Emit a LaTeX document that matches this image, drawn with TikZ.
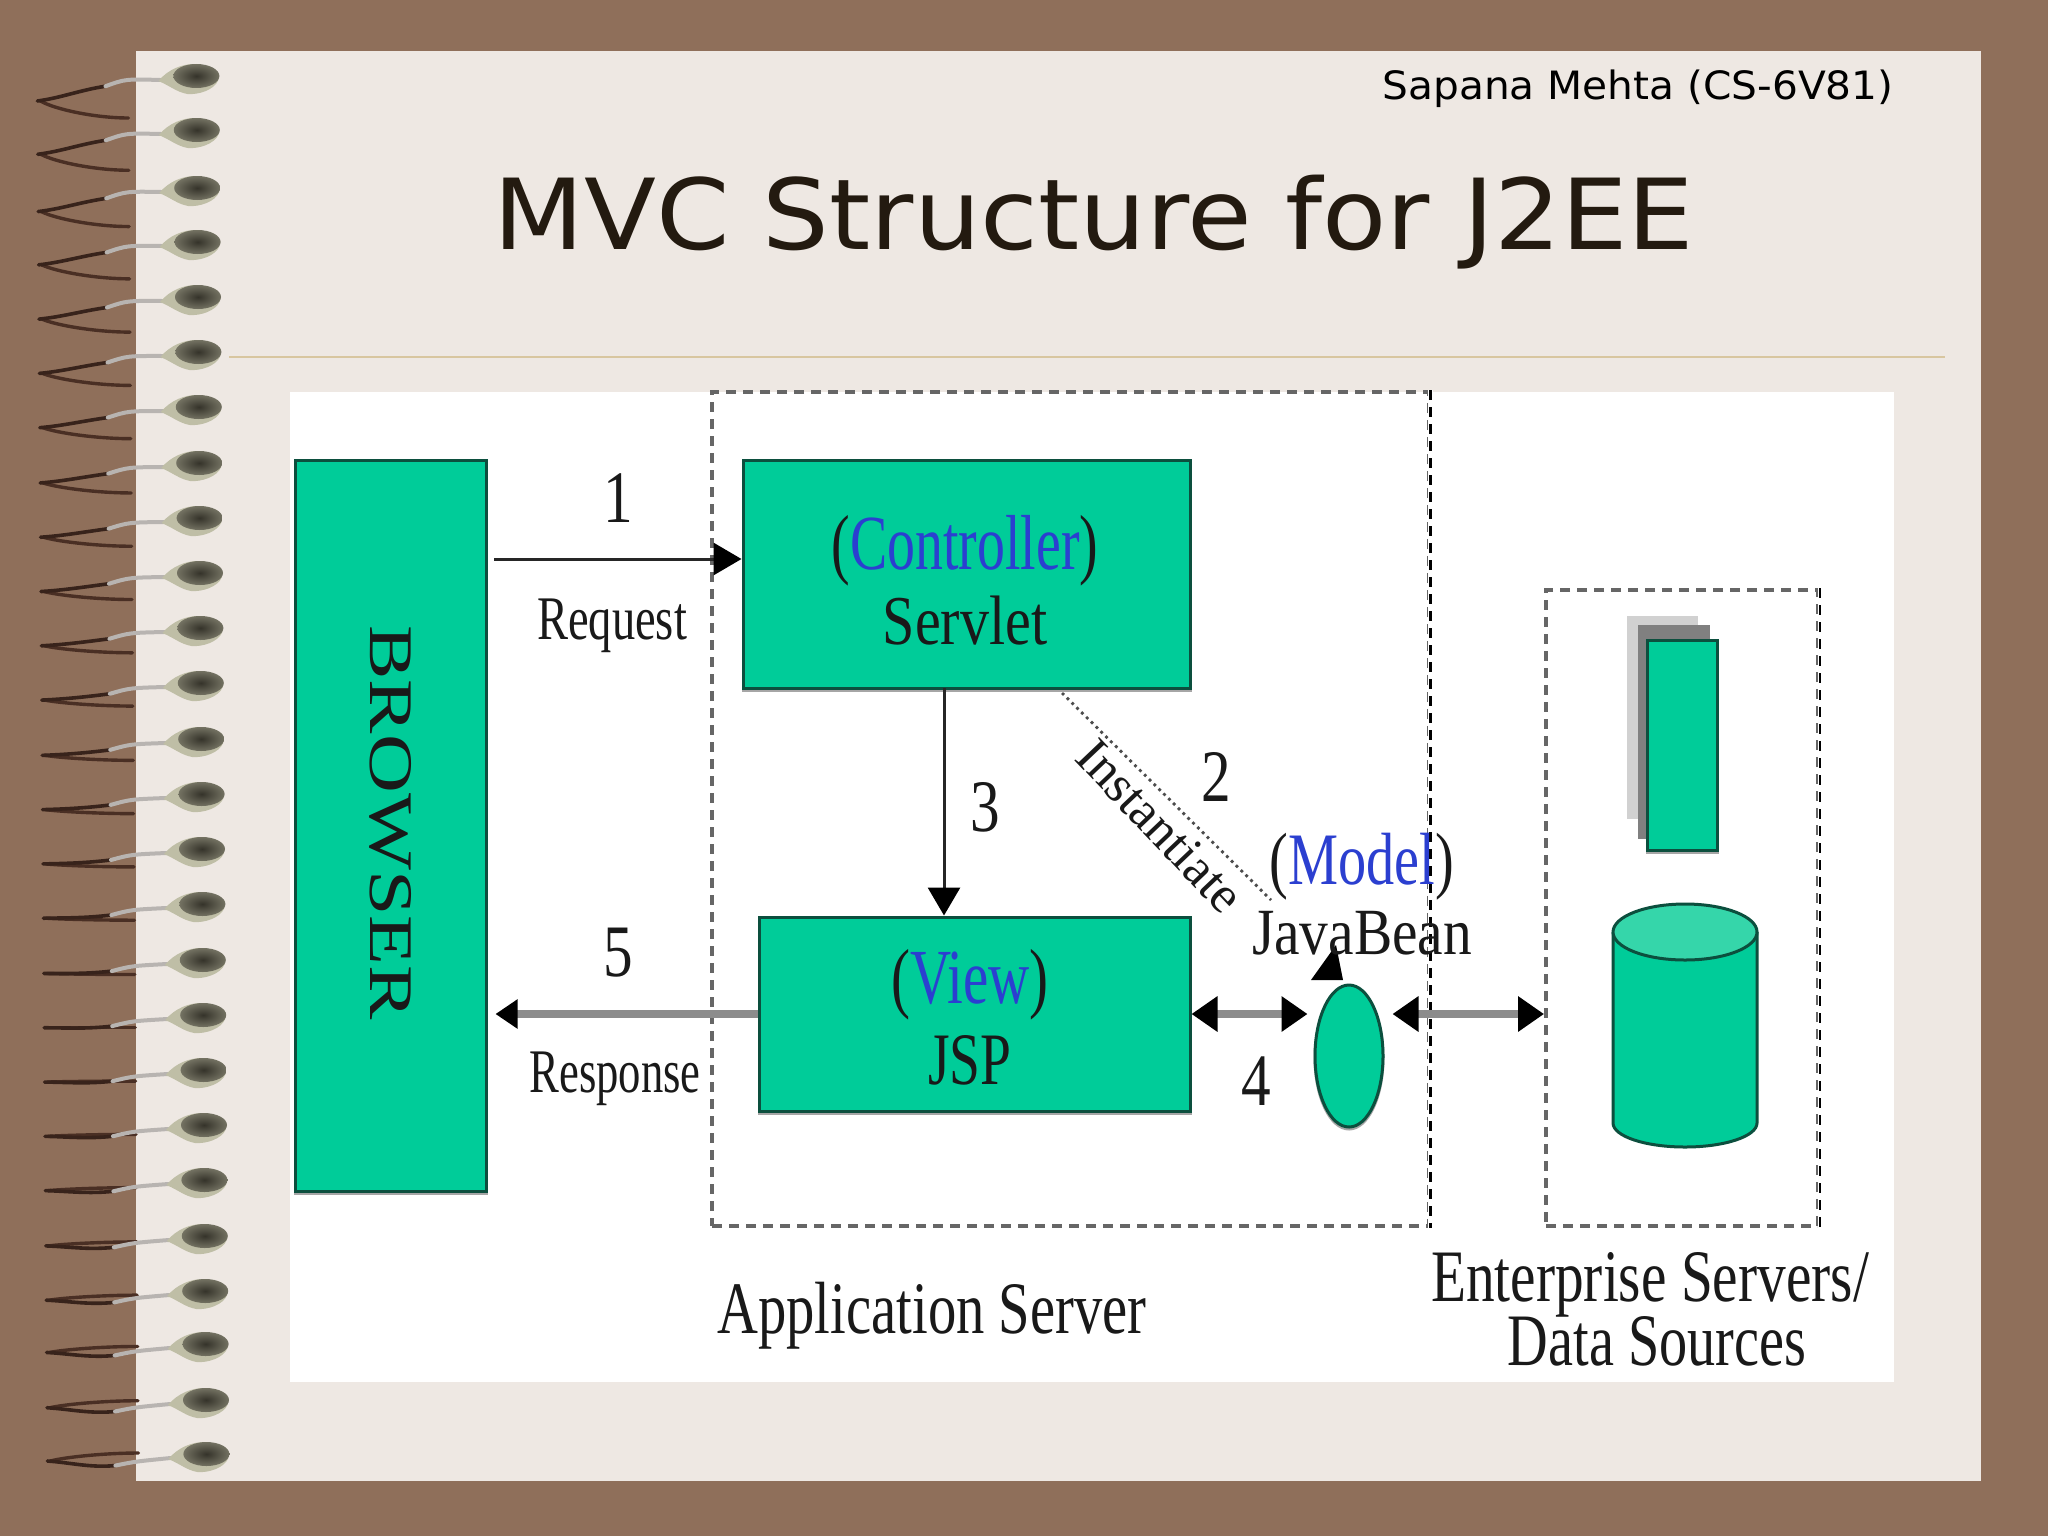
\documentclass[tikz,border=0pt]{standalone}
\usepackage{fontspec}
\setmainfont{Liberation Serif}
\newfontfamily\slidefont{DejaVu Sans}
\usetikzlibrary{arrows.meta,shapes.geometric}
\definecolor{slidebrown}{HTML}{8F6F5A}
\definecolor{slidepaper}{HTML}{EEE8E3}
\definecolor{sliderule}{HTML}{D8C6A0}
\definecolor{slideink}{HTML}{231A10}
\definecolor{boxteal}{HTML}{00CC99}
\definecolor{boxedge}{HTML}{0C4F3E}
\definecolor{lidteal}{HTML}{35D6AA}
\definecolor{roleblue}{HTML}{2B3FD0}
\definecolor{beadlight}{HTML}{BFBEA6}
\definecolor{beaddark}{HTML}{35332A}
\definecolor{wiredark}{HTML}{4A2F24}
\newcommand\imgtext[3]{\scalebox{#2}[1]{\fontsize{#1pt}{#1pt}\selectfont #3}}
\newcommand\rolename[1]{({\color{roleblue}#1})}
% bead at #1,#2; #3 = tip drop, #4 = drop of the wire's back end, #5 = sag of the front wire
\newcommand\spiralring[5]{%
  \begin{scope}[shift={(#1,#2)}]
    \draw[line width=1.7pt,line cap=round,wiredark] (-150,#3) .. controls (-135,#3/2+#4/2) and (-95,#4) .. (-62,#4);
    \draw[line width=1.8pt,line cap=round,wiredark!75!black] (-153,#3) .. controls (-130,#3+#5/2-3) and (-110,#3*.5+#5) .. (-85,#3*.33+#5*.8);
    \draw[line width=2pt,line cap=round,black!15!slidepaper!75!gray] (-85,#3*.33+#5*.8) .. controls (-65,#5/2) .. (-30,1);
    \fill[beadlight] (-32,2) .. controls (-22,-10) and (-8,-15) .. (4,-15) .. controls (20,-14) and (28,-6) .. (28,1)
       .. controls (24,11) and (8,16) .. (-3,15) .. controls (-14,13) and (-20,7) .. (-32,2) -- cycle;
    \shade[inner color=beaddark,outer color=beadlight!45!beaddark] (6,-3) ellipse[x radius=23,y radius=12];
  \end{scope}}
\tikzset{
  tealbox/.style={draw=boxedge,line width=1.5pt,fill=boxteal,inner sep=0pt,
     preaction={draw=gray!70,line width=1.5pt,transform canvas={yshift=-1pt}}},
  dashbox/.style={draw=black!60,line width=1.6pt,dash pattern=on 5pt off 3.5pt,inner sep=0pt},
  imglabel/.style={inner sep=0pt,text=black!90},
  flowline/.style={line width=1.5pt,black!85},
  wideline/.style={line width=3.6pt,black!45},
  flowtip/.style={-{Triangle[length=14pt,width=16pt,black]}},
  bothtip/.style={{Triangle[length=13pt,width=17pt,black]}-{Triangle[length=13pt,width=17pt,black]}}
}
\begin{document}
\begin{tikzpicture}[x=.5pt,y=-.5pt]
  \fill[slidebrown] (0,0) rectangle (2048,1536);
  \useasboundingbox (0,0) rectangle (2048,1536);
  \fill[slidepaper] (136,51) rectangle (1981,1481);
  \draw[sliderule,line width=1pt] (229,357) -- (1945,357);
  % spiral binding
  \foreach \ry [count=\ri] in {79,133,191,245,300,355,410,466,521,576,631,686,742,797,852,907,963,1018,1073,1128,1183,1239,1294,1347,1403,1457}{
    \pgfmathsetmacro\rx{190+\ri*.4}
    \pgfmathsetmacro\rtip{22-18*(\ri-1)/25}
    \pgfmathsetmacro\rback{39-43*(\ri-1)/25}
    \pgfmathsetmacro\rsag{9*(\ri-1)/25}
    \spiralring{\rx}{\ry}{\rtip}{\rback}{\rsag}
  }
  \node[inner sep=0pt,text=black] (author) at (1638,89) {\slidefont\scalebox{1.043}[1]{\fontsize{19.5pt}{20pt}\selectfont Sapana Mehta (CS-6V81)}};
  \node[inner sep=0pt,text=slideink] (title) at (1094,222) {\slidefont\scalebox{1.073}[1]{\fontsize{49pt}{50pt}\selectfont MVC Structure for J2EE}};
  \fill[white] (290,392) rectangle (1894,1382);
  % server frames
  \node[dashbox,minimum width=358.5pt,minimum height=417pt] (appserver) at (1070.5,809) {};
  \node[dashbox,line width=2pt,minimum width=136pt,minimum height=318pt] (entserver) at (1682,908) {};
  \draw[white,line width=2.2pt] (entserver.north east) -- (entserver.south east);
  \draw[white,line width=2.2pt] (appserver.north east) -- (appserver.south east);
  \draw[line width=1.3pt,black,dash pattern=on 5pt off 3.5pt] (entserver.north east) -- (entserver.south east);
  \draw[line width=1.2pt,black,dash pattern=on 5pt off 3.5pt] (appserver.north east) -- (appserver.south east);
  % main boxes
  \node[tealbox,minimum width=95.5pt,minimum height=365.5pt] (browser) at (390.5,825.5) {};
  \node[tealbox,minimum width=223.5pt,minimum height=114pt] (controller) at (966.5,574) {};
  \node[tealbox,minimum width=215.5pt,minimum height=97pt] (view) at (974.5,1014) {};
  \node[tealbox,ellipse,minimum width=34pt,minimum height=71pt] (bean) at (1349,1056) {};
  % data sources
  \fill[black!18] (1627,616) rectangle (1698,819);
  \fill[black!50] (1638,625) rectangle (1710,839);
  \node[tealbox,minimum width=35pt,minimum height=105pt] (datarect) at (1682,745) {};
  \fill[boxteal] (1613,932) -- (1613,1123) arc[start angle=180,end angle=0,x radius=72,y radius=24] -- (1757,932) -- cycle;
  \draw[boxedge,line width=1.5pt] (1613,932) -- (1613,1123) arc[start angle=180,end angle=0,x radius=72,y radius=24] -- (1757,932);
  \draw[boxedge,line width=1.5pt,fill=lidteal] (1685,932) ellipse[x radius=72,y radius=28];
  % connectors
  \coordinate (reqstart) at (494,559);
  \coordinate (downstart) at (944,688);
  \coordinate (dotstart) at (1062,693);
  \coordinate (dotend) at (1271,900);
  \draw[flowline,flowtip] (reqstart) -- (reqstart -| controller.west);
  \draw[flowline,flowtip] (downstart) -- (downstart |- view.north);
  \draw[wideline,-{Triangle[length=11pt,width=14pt,black]},shorten >=4pt] (view.west) -- (view.west -| browser.east);
  \draw[wideline,bothtip,shorten >=3pt] (view.east) -- (view.east -| bean.west);
  \draw[wideline,bothtip,shorten <=4pt] (view.east -| bean.east) -- (view.east -| entserver.west);
  \draw[black!70,line width=1.4pt,dotted] (dotstart) -- (dotend);
  \fill[black] (1336,945) -- (1311,980) -- (1343,980) -- cycle;
  % labels
  \node[imglabel,rotate=-90,xshift=-1.5pt] (browserlabel) at (browser) {\imgtext{31}{1.315}{BROWSER}};
  \node[imglabel] (ctrlrole) at (965,551) {\imgtext{39}{.715}{\rolename{Controller}}};
  \node[imglabel] (ctrlname) at (965,621) {\imgtext{35}{.83}{Servlet}};
  \node[imglabel] (viewrole) at (970,985) {\imgtext{39}{.73}{\rolename{View}}};
  \node[imglabel] (viewname) at (970,1060) {\imgtext{37}{.75}{JSP}};
  \node[imglabel] (beanrole) at (1362,867) {\imgtext{37}{.76}{\rolename{Model}}};
  \node[imglabel] (beanname) at (1362,933) {\imgtext{33}{.87}{JavaBean}};
  \node[imglabel] (stepone) at (618,498) {\imgtext{37}{.8}{1}};
  \node[imglabel] (steptwo) at (1216,777) {\imgtext{37}{.8}{2}};
  \node[imglabel] (stepthree) at (985,807) {\imgtext{37}{.8}{3}};
  \node[imglabel] (stepfour) at (1256,1081) {\imgtext{37}{.8}{4}};
  \node[imglabel] (stepfive) at (618,953) {\imgtext{37}{.8}{5}};
  \node[imglabel] (reqlabel) at (612,626) {\imgtext{31}{.75}{Request}};
  \node[imglabel] (resplabel) at (615,1079) {\imgtext{31}{.72}{Response}};
  \node[imglabel,rotate=-46.5] (instlabel) at (1160,826) {\imgtext{26}{1}{Instantiate}};
  \node[imglabel] (applabel) at (932,1316) {\imgtext{37}{.765}{Application Server}};
  \node[imglabel] (entlabel) at (1650,1285) {\imgtext{37}{.775}{Enterprise Servers/}};
  \node[imglabel] (datalabel) at (1657,1341) {\imgtext{37}{.76}{Data Sources}};
\end{tikzpicture}
\end{document}
